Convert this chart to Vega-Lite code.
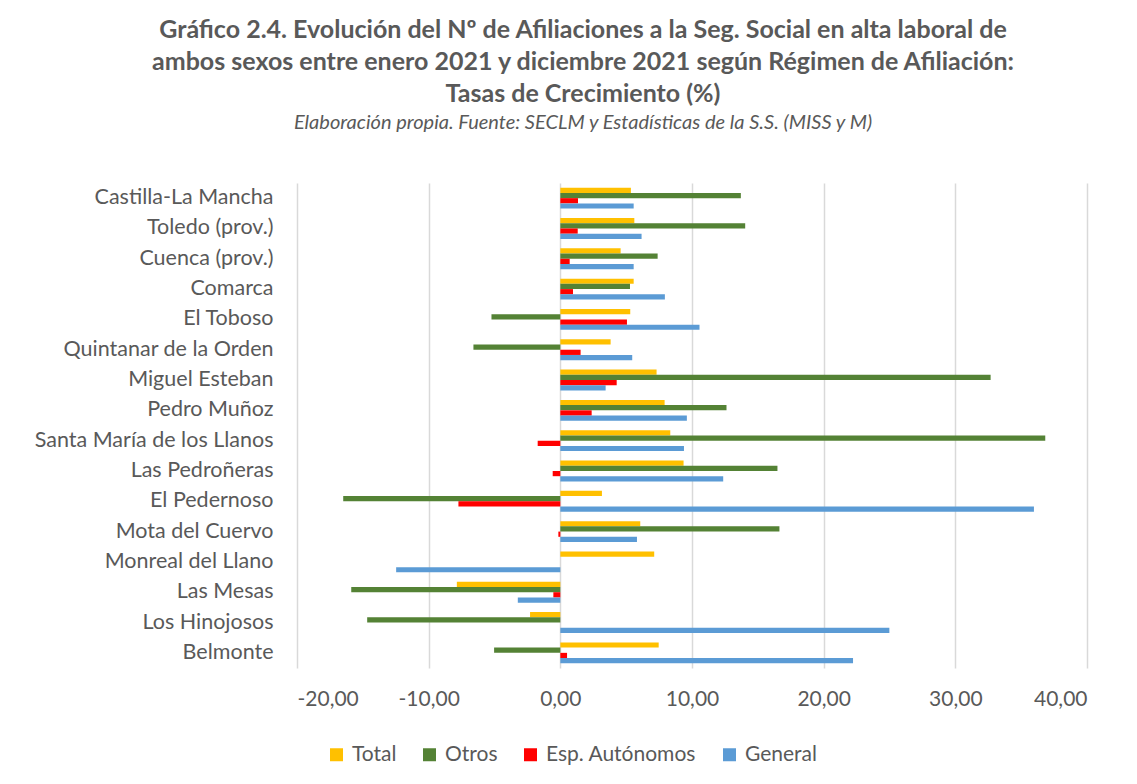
{
  "$schema": "https://vega.github.io/schema/vega-lite/v6.json",
  "autosize": "none",
  "width": 790,
  "height": 485,
  "padding": {"left": 297, "top": 183, "right": 50, "bottom": 116},
  "background": "white",
  "title": {
    "text": ["Gráfico 2.4. Evolución del Nº de Afiliaciones a la Seg. Social en alta laboral de", "ambos sexos entre enero 2021 y diciembre 2021 según Régimen de Afiliación:", "Tasas de Crecimiento (%)"],
    "subtitle": "Elaboración propia. Fuente: SECLM y Estadísticas de la S.S. (MISS y M)",
    "anchor": "middle",
    "dx": -109,
    "offset": 50,
    "font": "Lato",
    "fontSize": 25,
    "fontWeight": "bold",
    "color": "#595959",
    "lineHeight": 32,
    "subtitleFont": "Lato",
    "subtitleFontSize": 20,
    "subtitleFontStyle": "italic",
    "subtitleColor": "#595959",
    "subtitlePadding": 6
  },
  "data": {
    "values": [
      {"region": "Castilla-La Mancha", "serie": "Total", "value": 5.36},
      {"region": "Castilla-La Mancha", "serie": "Otros", "value": 13.71},
      {"region": "Castilla-La Mancha", "serie": "Esp. Autónomos", "value": 1.34},
      {"region": "Castilla-La Mancha", "serie": "General", "value": 5.57},
      {"region": "Toledo (prov.)", "serie": "Total", "value": 5.62},
      {"region": "Toledo (prov.)", "serie": "Otros", "value": 14.04},
      {"region": "Toledo (prov.)", "serie": "Esp. Autónomos", "value": 1.32},
      {"region": "Toledo (prov.)", "serie": "General", "value": 6.17},
      {"region": "Cuenca (prov.)", "serie": "Total", "value": 4.58},
      {"region": "Cuenca (prov.)", "serie": "Otros", "value": 7.39},
      {"region": "Cuenca (prov.)", "serie": "Esp. Autónomos", "value": 0.71},
      {"region": "Cuenca (prov.)", "serie": "General", "value": 5.57},
      {"region": "Comarca", "serie": "Total", "value": 5.57},
      {"region": "Comarca", "serie": "Otros", "value": 5.29},
      {"region": "Comarca", "serie": "Esp. Autónomos", "value": 0.96},
      {"region": "Comarca", "serie": "General", "value": 7.94},
      {"region": "El Toboso ", "serie": "Total", "value": 5.31},
      {"region": "El Toboso ", "serie": "Otros", "value": -5.23},
      {"region": "El Toboso ", "serie": "Esp. Autónomos", "value": 5.06},
      {"region": "El Toboso ", "serie": "General", "value": 10.57},
      {"region": "Quintanar de la Orden", "serie": "Total", "value": 3.82},
      {"region": "Quintanar de la Orden", "serie": "Otros", "value": -6.6},
      {"region": "Quintanar de la Orden", "serie": "Esp. Autónomos", "value": 1.54},
      {"region": "Quintanar de la Orden", "serie": "General", "value": 5.46},
      {"region": "Miguel Esteban", "serie": "Total", "value": 7.31},
      {"region": "Miguel Esteban", "serie": "Otros", "value": 32.68},
      {"region": "Miguel Esteban", "serie": "Esp. Autónomos", "value": 4.28},
      {"region": "Miguel Esteban", "serie": "General", "value": 3.44},
      {"region": "Pedro Muñoz", "serie": "Total", "value": 7.92},
      {"region": "Pedro Muñoz", "serie": "Otros", "value": 12.62},
      {"region": "Pedro Muñoz", "serie": "Esp. Autónomos", "value": 2.38},
      {"region": "Pedro Muñoz", "serie": "General", "value": 9.61},
      {"region": "Santa María de los Llanos", "serie": "Total", "value": 8.35},
      {"region": "Santa María de los Llanos", "serie": "Otros", "value": 36.83},
      {"region": "Santa María de los Llanos", "serie": "Esp. Autónomos", "value": -1.72},
      {"region": "Santa María de los Llanos", "serie": "General", "value": 9.39},
      {"region": "Las Pedroñeras ", "serie": "Total", "value": 9.36},
      {"region": "Las Pedroñeras ", "serie": "Otros", "value": 16.49},
      {"region": "Las Pedroñeras ", "serie": "Esp. Autónomos", "value": -0.58},
      {"region": "Las Pedroñeras ", "serie": "General", "value": 12.37},
      {"region": "El Pedernoso ", "serie": "Total", "value": 3.16},
      {"region": "El Pedernoso ", "serie": "Otros", "value": -16.49},
      {"region": "El Pedernoso ", "serie": "Esp. Autónomos", "value": -7.74},
      {"region": "El Pedernoso ", "serie": "General", "value": 35.97},
      {"region": "Mota del Cuervo", "serie": "Total", "value": 6.07},
      {"region": "Mota del Cuervo", "serie": "Otros", "value": 16.64},
      {"region": "Mota del Cuervo", "serie": "Esp. Autónomos", "value": -0.15},
      {"region": "Mota del Cuervo", "serie": "General", "value": 5.82},
      {"region": "Monreal del Llano", "serie": "Total", "value": 7.13},
      {"region": "Monreal del Llano", "serie": "General", "value": -12.47},
      {"region": "Las Mesas", "serie": "Total", "value": -7.86},
      {"region": "Las Mesas", "serie": "Otros", "value": -15.88},
      {"region": "Las Mesas", "serie": "Esp. Autónomos", "value": -0.53},
      {"region": "Las Mesas", "serie": "General", "value": -3.23},
      {"region": "Los Hinojosos", "serie": "Total", "value": -2.3},
      {"region": "Los Hinojosos", "serie": "Otros", "value": -14.67},
      {"region": "Los Hinojosos", "serie": "General", "value": 24.99},
      {"region": "Belmonte", "serie": "Total", "value": 7.47},
      {"region": "Belmonte", "serie": "Otros", "value": -5.03},
      {"region": "Belmonte", "serie": "Esp. Autónomos", "value": 0.51},
      {"region": "Belmonte", "serie": "General", "value": 22.23}
    ]
  },
  "mark": {"type": "bar", "orient": "horizontal"},
  "encoding": {
    "y": {
      "field": "region",
      "type": "nominal",
      "sort": null,
      "title": null,
      "scale": {"paddingInner": 0.31, "paddingOuter": 0.155},
      "axis": {
        "domain": false,
        "ticks": false,
        "labelFont": "Lato",
        "labelFontSize": 21.5,
        "labelColor": "#595959",
        "labelPadding": 24,
        "labelLimit": 300
      }
    },
    "yOffset": {
      "field": "serie",
      "type": "nominal",
      "sort": ["Total", "Otros", "Esp. Autónomos", "General"],
      "scale": {"paddingInner": 0, "paddingOuter": 0}
    },
    "x": {
      "field": "value",
      "type": "quantitative",
      "title": null,
      "scale": {"domain": [-20, 40], "nice": false, "zero": false},
      "axis": {
        "values": [-20, -10, 0, 10, 20, 30, 40],
        "labelExpr": "replace(replace(format(datum.value, '.2f'), '.', ','), '\u2212', '-')",
        "domain": false,
        "ticks": false,
        "grid": true,
        "gridColor": "#d9d9d9",
        "gridWidth": 1.5,
        "labelFont": "Lato",
        "labelFontSize": 21,
        "labelColor": "#595959",
        "labelPadding": 20
      }
    },
    "color": {
      "field": "serie",
      "type": "nominal",
      "sort": ["Total", "Otros", "Esp. Autónomos", "General"],
      "scale": {
        "domain": ["Total", "Otros", "Esp. Autónomos", "General"],
        "range": ["#FFC000", "#548235", "#FF0000", "#5B9BD5"]
      },
      "legend": {
        "title": null,
        "orient": "none",
        "direction": "horizontal",
        "legendX": 29,
        "legendY": 561,
        "symbolType": "square",
        "symbolSize": 169,
        "symbolStrokeWidth": 0,
        "symbolOpacity": 1,
        "labelFont": "Lato",
        "labelFontSize": 21,
        "labelColor": "#595959",
        "labelOffset": 5,
        "columnPadding": 22
      }
    }
  },
  "config": {"view": {"stroke": null}}
}
